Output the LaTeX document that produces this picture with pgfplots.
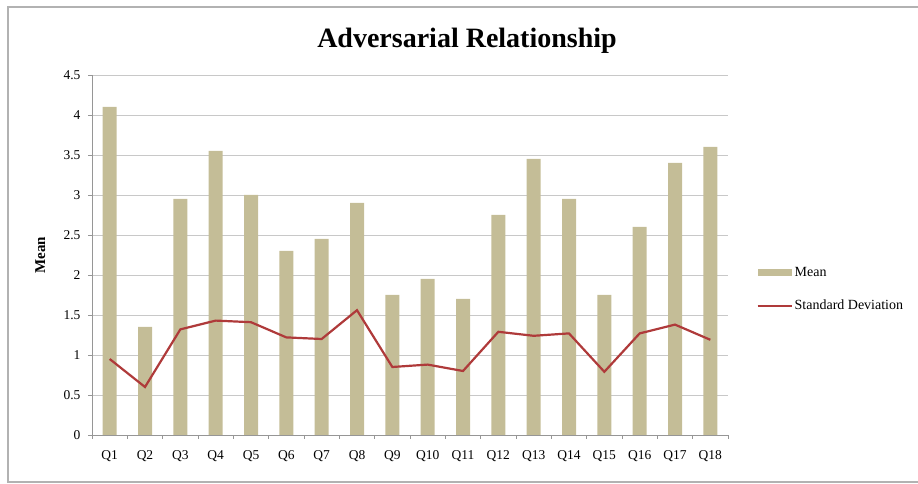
\documentclass[border=0pt]{standalone}
\usepackage{pgfplots}
\pgfplotsset{compat=1.18}
\usepackage{fontspec}
\setmainfont{Liberation Serif}
\definecolor{barcol}{RGB}{196,189,151}
\definecolor{sdcol}{RGB}{175,58,58}
\definecolor{gridcol}{RGB}{200,200,200}
\definecolor{axcol}{RGB}{150,150,150}
\begin{document}
\begin{tikzpicture}[x=1pt,y=1pt]
\useasboundingbox (0,0) rectangle (918,484);
\draw[color=gray!60, line width=1.2pt] (8,2) rectangle (940,477);
\node[font=\fontsize{28}{32}\selectfont\bfseries, anchor=base] at (467,436) {Adversarial Relationship};
\begin{axis}[
  at={(92pt,49pt)}, anchor=south west,
  scale only axis, width=636pt, height=360pt,
  xmin=-0.5, xmax=17.5, ymin=0, ymax=4.5,
  ytick={0,0.5,1,1.5,2,2.5,3,3.5,4,4.5},
  yticklabels={0,0.5,1,1.5,2,2.5,3,3.5,4,4.5},
  xtick={0,...,17},
  xticklabels={Q1,Q2,Q3,Q4,Q5,Q6,Q7,Q8,Q9,Q10,Q11,Q12,Q13,Q14,Q15,Q16,Q17,Q18},
  minor xtick={-0.5,0.5,...,17.5},
  x tick style={draw=none},
  minor x tick style={draw=axcol, thin},
  minor tick length=4pt,
  y tick style={draw=axcol, thin},
  major tick length=4pt,
  tick align=outside,
  ymajorgrids, grid style={gridcol, line width=0.8pt},
  axis x line*=bottom, axis y line*=left,
  axis line style={axcol, line width=0.8pt, -},
  tick label style={font=\fontsize{13.5}{15}\selectfont},
  /pgf/number format/assume math mode=true,
  yticklabel style={xshift=-4pt},
  xticklabel style={yshift=-8pt},
  ylabel={Mean},
  every axis y label/.style={at={(ticklabel cs:0.5)}, rotate=90, anchor=center, yshift=20pt, font=\fontsize{15}{17}\selectfont\bfseries},
  legend style={at={(1.04,0.405)}, anchor=west, draw=none, fill=none,
    font=\fontsize{14}{16}\selectfont, row sep=18pt, cells={anchor=west}},
  legend cell align=left,
]
\addplot[ybar, bar width=14pt, fill=barcol, draw=none,
  legend image code/.code={\fill[barcol] (0pt,-3.5pt) rectangle (34pt,3.5pt);}]
  coordinates {(0,4.1) (1,1.35) (2,2.95) (3,3.55) (4,3.0) (5,2.3) (6,2.45) (7,2.9) (8,1.75) (9,1.95) (10,1.7) (11,2.75) (12,3.45) (13,2.95) (14,1.75) (15,2.6) (16,3.4) (17,3.6)};
\addlegendentry{Mean}
\addplot[color=sdcol, line width=2.2pt, mark=none,
  legend image code/.code={\draw[line width=2pt, color=sdcol] (0pt,0pt) -- (34pt,0pt);}]
  coordinates {(0,0.95) (1,0.6) (2,1.32) (3,1.43) (4,1.41) (5,1.22) (6,1.2) (7,1.56) (8,0.85) (9,0.88) (10,0.8) (11,1.29) (12,1.24) (13,1.27) (14,0.79) (15,1.27) (16,1.38) (17,1.19)};
\addlegendentry{Standard Deviation}
\end{axis}
\end{tikzpicture}
\end{document}
